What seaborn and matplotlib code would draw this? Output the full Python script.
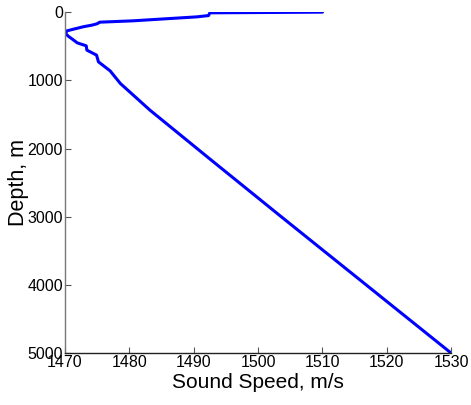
import seaborn as sns
import matplotlib.pyplot as plt
import pandas as pd

# Sound speed profile
depth = [0, 10, 50, 69, 127, 147, 170, 190, 215, 274, 313, 352, 386, 450, 494,
         557, 630, 729, 860, 1046, 1437, 2160, 3000, 4000, 5000]
speed = [1510.0, 1492.5, 1492.3, 1490.5, 1480.6, 1475.4, 1475.0, 1474.2, 1472.8,
         1470.3, 1470.1, 1470.5, 1471.0, 1471.9, 1473.3, 1473.4, 1474.9, 1475.2,
         1477.0, 1478.6, 1483.2, 1492.6, 1503.6, 1516.8, 1530.0]

xticks = [1470, 1480, 1490, 1500, 1510, 1520, 1530]
yticks = [0, 1000, 2000, 3000, 4000, 5000]

df = pd.DataFrame({'speed': speed, 'depth': depth})

sns.set_style('white', {'xtick.bottom': True, 'ytick.left': True})
plt.rcParams['font.family'] = ['Liberation Sans', 'DejaVu Sans']
plt.rcParams['text.color'] = 'black'
plt.rcParams['axes.labelcolor'] = 'black'
plt.rcParams['xtick.color'] = 'black'
plt.rcParams['ytick.color'] = 'black'

fig = plt.figure(figsize=(4.71, 4.05), dpi=100)
ax = fig.add_axes([0.138, 0.128, 0.82, 0.842])

sns.lineplot(data=df, x='speed', y='depth', sort=False, estimator=None,
             color='#0000ff', linewidth=2.2, ax=ax)

ax.set_xlim(1470, 1530)
ax.set_ylim(5000, 0)
ax.set_xticks(xticks)
ax.set_yticks(yticks)
ax.tick_params(direction='in', length=4, width=0.8, labelsize=11.5, pad=1.5)
ax.tick_params(axis='both', which='major', color='#555555')
ax.set_xlabel('Sound Speed, m/s', fontsize=15, labelpad=2)
ax.set_ylabel('Depth, m', fontsize=15.5, labelpad=-1)

for s in ['top', 'right']:
    ax.spines[s].set_visible(False)
ax.spines['left'].set_color('#777777')
ax.spines['bottom'].set_color('#222222')
ax.spines['left'].set_linewidth(1)
ax.spines['bottom'].set_linewidth(1)

fig.savefig('out.png', dpi=100)
